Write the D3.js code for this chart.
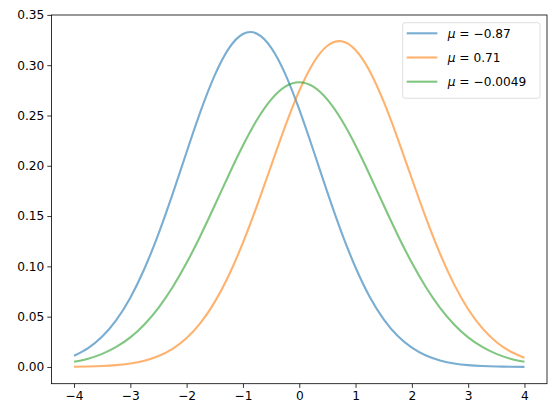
<!DOCTYPE html>
<html>
<head>
<meta charset="utf-8">
<script src="https://cdn.jsdelivr.net/npm/d3@7"></script>
<style>
  body { margin: 0; background: #fff; }
  text { font-family: "DejaVu Sans", sans-serif; }
</style>
</head>
<body>
<div id="chart"></div>
<script>
// x grid (step 0.25)
var xs = d3.range(33).map(function (i) { return -4 + i * 0.25; });

var blue = [0.0111, 0.0187, 0.0302, 0.0466, 0.0689, 0.0976, 0.1324, 0.1719, 0.2137, 0.2545,
            0.2901, 0.3167, 0.3310, 0.3313, 0.3175, 0.2914, 0.2560, 0.2154, 0.1736, 0.1339,
            0.0989, 0.0699, 0.0474, 0.0307, 0.0191, 0.0113, 0.0065, 0.0035, 0.0018, 0.0009,
            0.0004, 0.0002, 0.0001];
var orange = [0.0002, 0.0005, 0.0009, 0.0018, 0.0035, 0.0062, 0.0108, 0.0180, 0.0287, 0.0440,
              0.0647, 0.0912, 0.1235, 0.1604, 0.1999, 0.2391, 0.2744, 0.3022, 0.3193, 0.3238,
              0.3151, 0.2943, 0.2637, 0.2268, 0.1871, 0.1482, 0.1126, 0.0821, 0.0574, 0.0386,
              0.0248, 0.0154, 0.0091];
var green = [0.0051, 0.0082, 0.0130, 0.0199, 0.0294, 0.0423, 0.0588, 0.0792, 0.1035, 0.1310,
             0.1607, 0.1911, 0.2201, 0.2457, 0.2657, 0.2786, 0.2830, 0.2786, 0.2657, 0.2457,
             0.2201, 0.1911, 0.1607, 0.1310, 0.1035, 0.0792, 0.0588, 0.0423, 0.0294, 0.0199,
             0.0130, 0.0082, 0.0051];

var labels = ["\u22120.87", "0.71", "\u22120.0049"];
var xTicks = [-4, -3, -2, -1, 0, 1, 2, 3, 4];
var yTicks = [0.00, 0.05, 0.10, 0.15, 0.20, 0.25, 0.30, 0.35];

var series = [
  { vals: blue, color: "#1f77b4", label: labels[0] },
  { vals: orange, color: "#ff7f0e", label: labels[1] },
  { vals: green, color: "#2ca02c", label: labels[2] }
];

var W = 556, H = 418;
var margin = { top: 15, right: 9, bottom: 34.3, left: 51.5 },
    width = W - margin.left - margin.right,
    height = H - margin.top - margin.bottom;

var svg = d3.select("#chart").append("svg")
    .attr("width", W).attr("height", H)
  .append("g")
    .attr("transform", "translate(" + margin.left + "," + margin.top + ")");

var x = d3.scaleLinear().domain([-4.4, 4.4]).range([0, width]);
var y = d3.scaleLinear().domain([-0.01665, 0.3499]).range([height, 0]);

// lines
var line = d3.line()
    .x(function (d, i) { return x(xs[i]); })
    .y(function (d) { return y(d); })
    .curve(d3.curveNatural);

series.forEach(function (s) {
  svg.append("path")
      .datum(s.vals)
      .attr("fill", "none")
      .attr("stroke", s.color)
      .attr("stroke-opacity", 0.6)
      .attr("stroke-width", 2.1)
      .attr("d", line);
});

// axes
var xAxis = svg.append("g")
    .attr("transform", "translate(0," + height + ")")
    .call(d3.axisBottom(x).tickValues(xTicks).tickSizeOuter(0).tickSize(4.2).tickPadding(3)
      .tickFormat(function (d) { return d < 0 ? "\u2212" + Math.abs(d) : d; }));
var yAxis = svg.append("g")
    .call(d3.axisLeft(y).tickValues(yTicks).tickSizeOuter(0).tickSize(4.2).tickPadding(3)
      .tickFormat(d3.format(".2f")));

[xAxis, yAxis].forEach(function (a) {
  a.select(".domain").remove();
  a.selectAll("line").attr("stroke", "#000").attr("stroke-width", 0.8);
  a.selectAll("text").attr("fill", "#000").style("font-size", "12.2px")
    .style("font-family", "'DejaVu Sans', sans-serif");
});

// frame
svg.append("rect")
    .attr("width", width).attr("height", height)
    .attr("fill", "none").attr("stroke", "#000").attr("stroke-width", 0.8);

// legend
var lg = svg.append("g").attr("transform", "translate(" + (402.7 - margin.left) + "," + (22.7 - margin.top) + ")");
lg.append("rect")
    .attr("width", 137.3).attr("height", 75.6).attr("rx", 2.5)
    .attr("fill", "#fff").attr("fill-opacity", 0.8)
    .attr("stroke", "#d6d6d6").attr("stroke-width", 0.8);

series.forEach(function (s, i) {
  var yy = 10.6 + i * 24.2;
  lg.append("line")
      .attr("x1", 4).attr("x2", 34.6).attr("y1", yy).attr("y2", yy)
      .attr("stroke", s.color).attr("stroke-opacity", 0.6).attr("stroke-width", 2.1);
  var t = lg.append("text")
      .attr("x", 45).attr("y", yy + 4.3)
      .style("font-size", "12.2px").attr("fill", "#000");
  t.append("tspan").style("font-style", "italic").text("\u03bc");
  t.append("tspan").text(" = " + s.label);
});
</script>
</body>
</html>
